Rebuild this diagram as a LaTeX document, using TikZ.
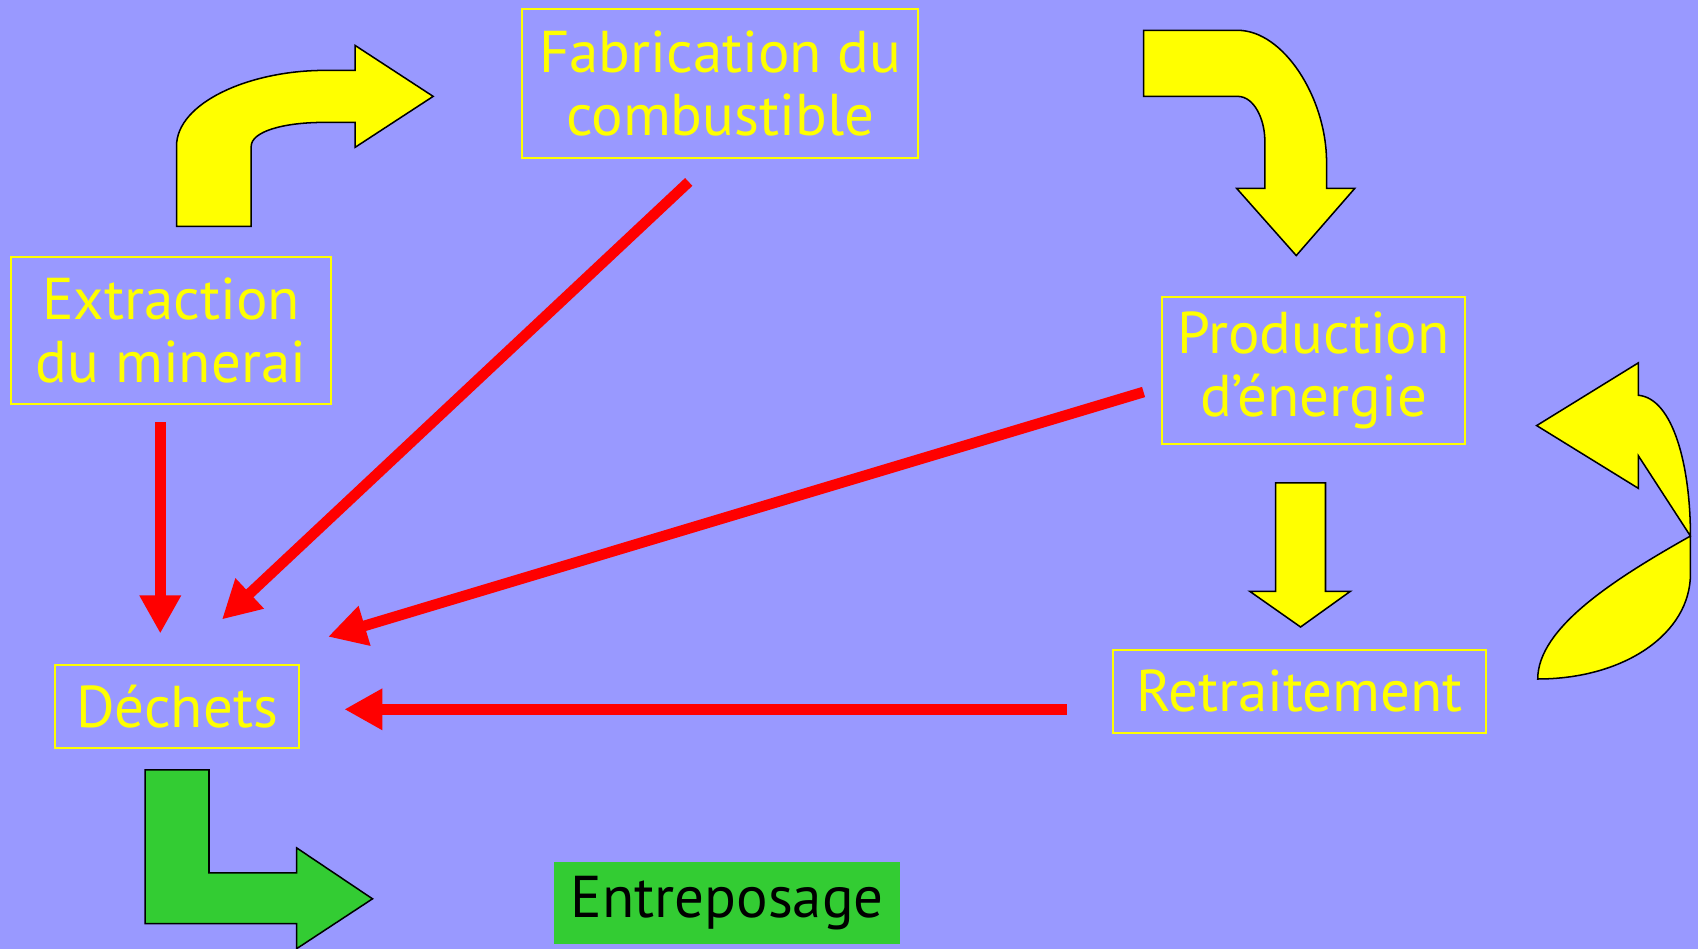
\documentclass[tikz,border=0pt]{standalone}
\usepackage{fontspec}
\setmainfont{PT Sans}
\usetikzlibrary{arrows.meta}
\definecolor{bg}{RGB}{153,153,255}
\definecolor{ylw}{RGB}{255,255,0}
\definecolor{grn}{RGB}{51,204,51}
\begin{document}
\begin{tikzpicture}[x=0.02cm,y=-0.02cm,
  lbl/.style={draw=ylw, line width=1pt, text=ylw, font=\fontsize{31}{33}\selectfont, align=center, inner sep=0pt},
  redarrow/.style={draw=red, line width=5.6pt, -{Triangle[length=20pt,width=20.5pt]}},
  blockY/.style={fill=ylw, draw=black, line width=0.8pt, line join=miter},
  blockG/.style={fill=grn, draw=black, line width=0.8pt, line join=miter}]
\fill[bg] (0,0) rectangle (1568,876);
\useasboundingbox (0,0) rectangle (1568,876);

% labelled boxes
\node[lbl, minimum width=7.32cm, minimum height=2.76cm] (fab) at (665,77) {Fabrication du\\combustible};
\node[lbl, minimum width=5.92cm, minimum height=2.72cm] (ext) at (158,305) {Extraction\\du minerai};
\node[lbl, minimum width=5.6cm, minimum height=2.72cm] (prod) at (1213,342) {Production\\d’énergie};
\node[lbl, minimum width=4.5cm, minimum height=1.54cm] (dec) at (163.5,652.5) {Déchets};
\node[lbl, minimum width=6.88cm, minimum height=1.54cm] (ret) at (1200,638.5) {Retraitement};
\node[lbl, draw=none, fill=grn, text=black, minimum width=6.38cm, minimum height=1.52cm] (ent) at (671.5,834) {Entreposage};

% red arrows to Déchets
\coordinate (r1s) at (148,390); \coordinate (r1e) at (148,585);
\coordinate (r2s) at (636,168); \coordinate (r2e) at (205,572);
\coordinate (r3s) at (1056,362); \coordinate (r3e) at (303,588);
\coordinate (r4s) at (985,655); \coordinate (r4e) at (318,655);
\draw[redarrow] (r1s) -- (r1e);
\draw[redarrow] (r2s) -- (r2e);
\draw[redarrow] (r3s) -- (r3e);
\draw[redarrow] (r4s) -- (r4e);

% yellow block arrows
\draw[blockY] (163,209) -- (163,135) .. controls (163,95) and (230,65) .. (300,65) -- (328,65) -- (328,42) -- (400,89) -- (328,136) -- (328,113) -- (300,113) .. controls (260,113) and (232,122) .. (232,135) -- (232,209) -- cycle;
\draw[blockY] (1056,28) -- (1143,28) .. controls (1185,28) and (1225,90) .. (1225,150) -- (1225,174) -- (1251,174) -- (1197,236) -- (1142,174) -- (1168,174) -- (1168,130) .. controls (1168,110) and (1158,89) .. (1143,89) -- (1056,89) -- cycle;
\draw[blockY] (1178,446) -- (1224,446) -- (1224,546) -- (1247,546) -- (1201,579) -- (1154,546) -- (1178,546) -- cycle;
\draw[blockY] (1419,393) -- (1513,335) -- (1513,365) .. controls (1545,368) and (1561,430) .. (1561,495) -- (1561,530) .. controls (1561,585) and (1500,627) .. (1420,627) .. controls (1420,580) and (1490,535) .. (1561,495) -- (1513,421) -- (1513,451) -- cycle;

% green block arrow
\draw[blockG] (134,711) -- (193,711) -- (193,806) -- (274,806) -- (274,783) -- (344,830) -- (274,876) -- (274,853) -- (134,853) -- cycle;
\end{tikzpicture}
\end{document}
